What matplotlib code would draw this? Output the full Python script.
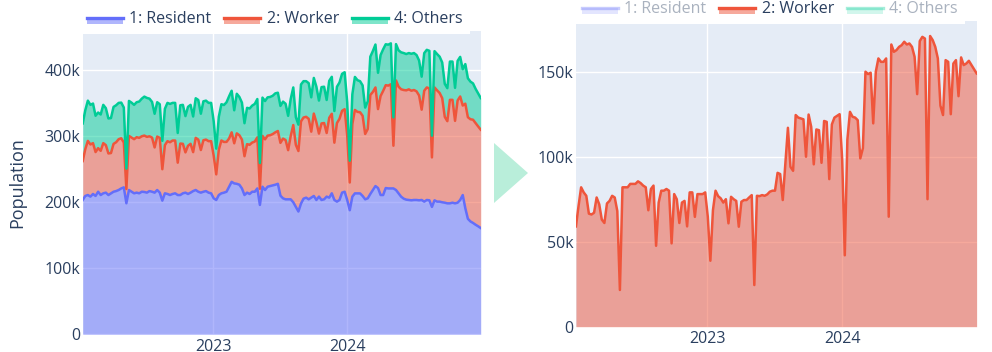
import matplotlib
matplotlib.use("Agg")
import matplotlib.pyplot as plt
import matplotlib.dates as mdates
import numpy as np
import pandas as pd
from matplotlib.patches import Rectangle, Polygon
from matplotlib.lines import Line2D
from matplotlib.ticker import FuncFormatter

# weekly population, in thousands
START_DATE = "2022-01-10"

resident = [203.5, 209.6, 211, 208.6, 212.6, 209.6, 216, 211, 213.6, 214.6,
            211, 213.6, 216, 217, 218.6, 221, 222.6, 198.5, 218.6, 216,
            213.6, 214.6, 213.6, 216, 215.6, 214.6, 217, 216, 214.6, 218.6,
            214.6, 202.5, 213.6, 212.6, 211, 212.6, 213.6, 211, 211, 213.6,
            214.6, 212.6, 214.6, 217, 218.6, 216, 214.6, 216, 217, 214.6,
            213.6,
            206, 203.5, 211, 213.6, 214.6, 216, 223.6, 231, 228.6, 228,
            226.6, 221, 211, 214.6, 212.6, 216, 216, 221, 196, 223.6,
            218.6, 223.6, 224.6, 225.6, 226.6, 228, 210, 206, 204.5, 204.5,
            204.5, 200, 193, 186, 198, 205.5, 207, 204.5, 207, 209.6,
            203.5, 208.6, 203.5, 204.5, 208.6, 207, 213.6, 203.5, 201, 203.5,
            214.6, 216, 203.5,
            188, 208.5, 213.5, 213.5, 213.5, 209.6, 204.5, 206, 212.6, 218.6,
            224.6, 221.6, 211, 211, 221.6, 221, 221, 221, 218.6, 213.5,
            208.5, 205.5, 204, 203.5, 203, 203.5, 203.5, 203, 203.5, 201,
            203.5, 203, 193, 203, 201, 201, 200, 199.4, 198.4, 198.4,
            199.4, 198.4, 199.4, 203.5, 211, 191, 175, 171, 168.7, 166,
            163.6, 161]

worker = [59, 71, 82, 79, 77, 66.5, 66, 67, 76, 72,
          63, 61, 72.5, 74, 77, 76, 68, 21.6, 82, 82,
          82, 84, 84, 84, 85.5, 84.5, 83, 82, 68.5, 81,
          83, 47.6, 73, 80, 80, 81, 80, 49, 78, 75,
          61, 73, 74, 59, 79, 79, 64.6, 78, 78, 78,
          79,
          64.7, 38.8, 68.6, 80, 76.8, 75.5, 73, 75, 60.8, 76.4,
          75, 74, 58.8, 73.5, 74.5, 74.5, 76, 77.4, 24.5, 77,
          76.8, 77.4, 77, 77.8, 79.4, 80, 80, 90.5, 89.8, 74.5,
          96, 117, 94, 91.7, 124.5, 123, 122.5, 122, 100, 124.8,
          117.6, 95.5, 116, 115.6, 96.4, 121, 120.5, 86.8, 119, 123,
          124, 125, 98,
          42, 110, 126.4, 123.5, 123, 121.5, 99, 105, 150, 148.6,
          149.4, 119.6, 150, 157.8, 155.8, 155.8, 157.8, 64.7, 166, 161.7,
          162.7, 164.6, 165.6, 167.6, 166, 166.6, 164.6, 158.8, 136.8, 168,
          170.5, 169.5, 75, 171, 168.6, 164.6, 157.8, 130, 124.5, 156.8,
          155.8, 125, 154.8, 156.8, 135.6, 158.4, 153.9, 154.8, 156.4, 153.9,
          151.3, 149]

others = [57, 59, 61, 60, 60, 55, 54, 55, 58, 56,
          53, 53, 56, 56, 55, 54, 53, 31, 53, 53,
          52, 53, 55, 57, 59, 59, 57, 54, 51, 52,
          51, 43, 55, 58, 58, 57, 57, 45, 58, 59,
          55, 59, 59, 54, 60, 60, 55, 59, 59, 58,
          58,
          52, 39, 50, 55, 56, 60, 64, 63, 50, 60,
          58, 56, 50, 55, 55, 56, 57, 58, 39, 58,
          58, 58, 58, 58, 59, 58, 56, 56, 55, 52,
          56, 57, 42, 40, 56, 55, 54, 54, 52, 54,
          54, 50, 55, 55, 50, 56, 56, 48, 55, 55,
          56, 56, 50,
          33, 45, 50, 48, 47, 46, 40, 42, 58, 62,
          65, 55, 62, 63, 62, 62, 62, 43, 55, 55,
          56, 56, 55, 55, 56, 56, 55, 53, 50, 57,
          57, 57, 33, 55, 55, 55, 54, 50, 50, 58,
          58, 50, 60, 60, 55, 60, 59, 57, 55, 52,
          50, 48]

labels = ["1: Resident", "2: Worker", "4: Others"]
colors = ["#636EFA", "#EF553B", "#00CC96"]

BG = "#E5ECF6"
TXT = "#2a3f5f"
FONT = "Open Sans"
FS = 11.5

dates = pd.date_range(START_DATE, periods=len(worker), freq="7D")
res = np.array(resident) * 1000
wrk = np.array(worker) * 1000
oth = np.array(others) * 1000


class AreaKey:
    def __init__(self, color, faded=False):
        self.color = color
        self.faded = faded


class AreaHandler:
    # plotly style area legend symbol: line on top, fill below
    def legend_artist(self, legend, orig_handle, fontsize, handlebox):
        x0, y0 = handlebox.xdescent, handlebox.ydescent
        w, h = handlebox.width, handlebox.height
        a = 0.35 if orig_handle.faded else 1.0
        tr = handlebox.get_transform()
        rect = Rectangle((x0, y0), w, h * 0.65, facecolor=orig_handle.color,
                         alpha=0.5 * a, edgecolor="none", transform=tr)
        ln = Line2D([x0, x0 + w], [y0 + h * 0.65] * 2, color=orig_handle.color,
                    lw=2.4, alpha=a, transform=tr)
        handlebox.add_artist(rect)
        handlebox.add_artist(ln)
        return rect


def k_fmt(v, pos):
    return "0" if v == 0 else "{0:g}k".format(v / 1000)


def style_axes(ax, ymax, step):
    ax.set_facecolor(BG)
    for s in ax.spines.values():
        s.set_visible(False)
    ax.set_xlim(dates[0], dates[-1])
    ax.set_ylim(0, ymax)
    ax.set_yticks(np.arange(0, ymax, step))
    ax.yaxis.set_major_formatter(FuncFormatter(k_fmt))
    ax.xaxis.set_major_locator(mdates.YearLocator())
    ax.xaxis.set_major_formatter(mdates.DateFormatter("%Y"))
    ax.grid(color="white", linewidth=1.0)
    ax.set_axisbelow(True)
    ax.tick_params(length=0, labelsize=FS, labelcolor=TXT)
    ax.tick_params(axis="y", pad=2)
    ax.tick_params(axis="x", pad=3.3)
    for t in ax.get_xticklabels() + ax.get_yticklabels():
        t.set_fontfamily(FONT)


def add_legend(fig, cx, cy, faded):
    handles = [AreaKey(c, f) for c, f in zip(colors, faded)]
    leg = fig.legend(handles, labels, handler_map={AreaKey: AreaHandler()},
                     loc="center", bbox_to_anchor=(cx, cy), ncol=3,
                     frameon=True, fancybox=False, edgecolor="none",
                     facecolor="white", framealpha=1.0,
                     prop={"family": FONT, "size": FS},
                     handlelength=2.25, handleheight=0.55, handletextpad=0.4,
                     columnspacing=0.8, borderpad=0.45)
    for t, f in zip(leg.get_texts(), faded):
        t.set_color(TXT)
        if f:
            t.set_alpha(0.4)
    return leg


fig = plt.figure(figsize=(9.92, 3.52), dpi=100)

# left: stacked area of all groups
ax1 = fig.add_axes([0.0834, 0.0503, 0.4012, 0.8616])
style_axes(ax1, 459500, 100000)
lvl1 = res
lvl2 = res + wrk
lvl3 = res + wrk + oth
ax1.fill_between(dates, 0, lvl1, color=colors[0], alpha=0.5, lw=0)
ax1.fill_between(dates, lvl1, lvl2, color=colors[1], alpha=0.5, lw=0)
ax1.fill_between(dates, lvl2, lvl3, color=colors[2], alpha=0.5, lw=0)
ax1.plot(dates, lvl1, color=colors[0], lw=1.8)
ax1.plot(dates, lvl2, color=colors[1], lw=1.8)
ax1.plot(dates, lvl3, color=colors[2], lw=1.8)
ax1.set_ylabel("Population", fontsize=13, color=TXT, family=FONT)
ax1.yaxis.set_label_coords(-0.143, 0.5)

# right: worker only
ax2 = fig.add_axes([0.5806, 0.0719, 0.4039, 0.8693])
style_axes(ax2, 180000, 50000)
ax2.fill_between(dates, 0, wrk, color=colors[1], alpha=0.5, lw=0)
ax2.plot(dates, wrk, color=colors[1], lw=1.8)

add_legend(fig, 275 / 992, 1 - 19 / 352, [False, False, False])
add_legend(fig, 770 / 992, 1 - 9 / 352, [True, False, True])

# arrow between panels
W, H = 992, 352
tri = Polygon([(494 / W, 1 - 143 / H), (494 / W, 1 - 203 / H), (528 / W, 1 - 173 / H)],
              closed=True, facecolor="#B9EEDA", edgecolor="none",
              transform=fig.transFigure)
fig.patches.append(tri)

fig.savefig("out.png", dpi=100)
